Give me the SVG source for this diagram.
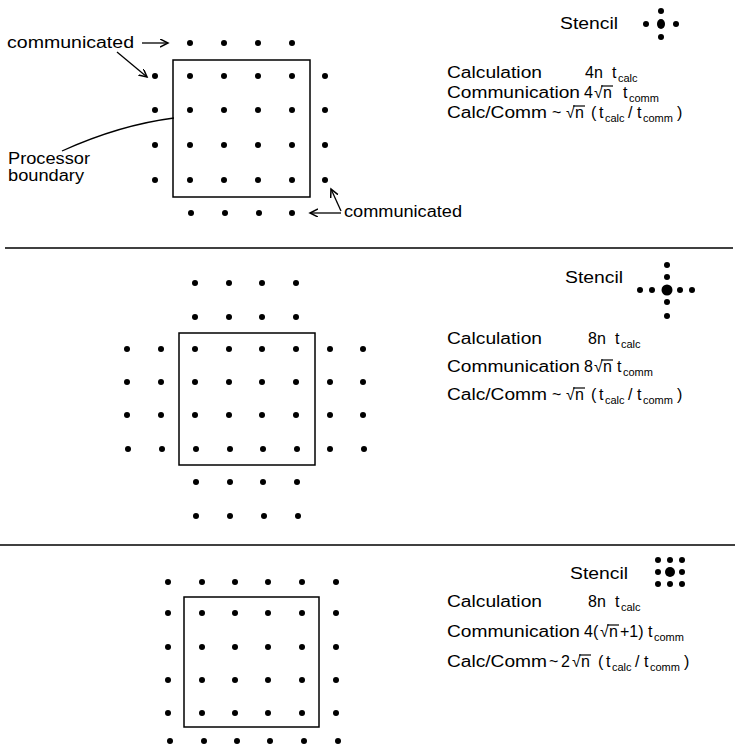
<svg xmlns="http://www.w3.org/2000/svg" width="735" height="746" viewBox="0 0 735 746">
<style>
text{font-family:"Liberation Sans","DejaVu Sans",sans-serif;font-size:16px;fill:#000}
.sub{font-size:11px}
.box{fill:none;stroke:#000;stroke-width:1.5}
.rule{stroke:#000;stroke-width:1.6}
.ln{fill:none;stroke:#000;stroke-width:1.3}
.bar{stroke:#000;stroke-width:1.2}
</style>
<defs>
<circle id="d" r="3" fill="#000"/>
<marker id="ah" markerWidth="10" markerHeight="10" refX="8" refY="4" orient="auto" markerUnits="userSpaceOnUse">
<path d="M0,0 L8,4 L0,8" fill="none" stroke="#000" stroke-width="1.5"/>
</marker>
</defs>
<rect width="735" height="746" fill="#fff"/>

<g id="dividers">
<line class="rule" x1="5" y1="248" x2="733" y2="248"/>
<line class="rule" x1="0" y1="545" x2="735" y2="545"/>
</g>

<g id="panel1">
<rect class="box" x="173" y="60" width="137" height="137"/>
<g id="grid1">
<use href="#d" x="190" y="43"/><use href="#d" x="224" y="43"/><use href="#d" x="258" y="43"/><use href="#d" x="292" y="43"/>
<use href="#d" x="155" y="76"/><use href="#d" x="190" y="76"/><use href="#d" x="224" y="76"/><use href="#d" x="258" y="76"/><use href="#d" x="292" y="76"/><use href="#d" x="325" y="76"/>
<use href="#d" x="155" y="110"/><use href="#d" x="190" y="110"/><use href="#d" x="224" y="110"/><use href="#d" x="258" y="110"/><use href="#d" x="292" y="110"/><use href="#d" x="325" y="110"/>
<use href="#d" x="155" y="145"/><use href="#d" x="190" y="145"/><use href="#d" x="224" y="145"/><use href="#d" x="258" y="145"/><use href="#d" x="292" y="145"/><use href="#d" x="325" y="145"/>
<use href="#d" x="155" y="180"/><use href="#d" x="190" y="180"/><use href="#d" x="224" y="180"/><use href="#d" x="258" y="180"/><use href="#d" x="292" y="180"/><use href="#d" x="325" y="180"/>
<use href="#d" x="191" y="213"/><use href="#d" x="225" y="213"/><use href="#d" x="259" y="213"/><use href="#d" x="292" y="213"/>
</g>
<text id="lbl-comm-top" x="7" y="48" textLength="127" lengthAdjust="spacingAndGlyphs">communicated</text>
<text id="lbl-proc" x="8" y="164" textLength="82" lengthAdjust="spacingAndGlyphs">Processor</text>
<text id="lbl-bound" x="8" y="181" textLength="76" lengthAdjust="spacingAndGlyphs">boundary</text>
<text id="lbl-comm-bot" x="344" y="217" textLength="118" lengthAdjust="spacingAndGlyphs">communicated</text>
<g id="stencil1">
<text x="560" y="29" textLength="58" lengthAdjust="spacingAndGlyphs">Stencil</text>
<use href="#d" x="661" y="11"/><use href="#d" x="646" y="24"/><use href="#d" x="676" y="24"/><use href="#d" x="661" y="37"/>
<ellipse cx="661" cy="24" rx="4" ry="5"/>
</g>
<g id="eq1">
<text x="447" y="78" textLength="95" lengthAdjust="spacingAndGlyphs">Calculation</text>
<text x="585" y="78">4n</text>
<text x="612" y="78">t</text><text class="sub" x="618" y="82">calc</text>
<text x="447" y="98" textLength="133" lengthAdjust="spacingAndGlyphs">Communication</text>
<text x="584" y="98">4</text><text x="594" y="98">√</text><text x="603" y="98">n</text><line class="bar" x1="601" y1="86" x2="613" y2="86"/>
<text x="623" y="98">t</text><text class="sub" x="629" y="102">comm</text>
<text x="447" y="118" textLength="100" lengthAdjust="spacingAndGlyphs">Calc/Comm</text>
<text x="552" y="118">~</text><text x="566" y="118">√</text><text x="575" y="118">n</text><line class="bar" x1="573" y1="106" x2="585" y2="106"/>
<text x="591" y="118">(</text><text x="599" y="118">t</text><text class="sub" x="605" y="122">calc</text>
<text x="628" y="118">/</text><text x="637" y="118">t</text><text class="sub" x="643" y="122">comm</text><text x="677" y="118">)</text>
</g>
</g>

<g id="panel2">
<rect class="box" x="179" y="333" width="136" height="132"/>
<g id="grid2">
<use href="#d" x="195" y="283"/><use href="#d" x="229" y="283"/><use href="#d" x="262" y="283"/><use href="#d" x="296" y="283"/>
<use href="#d" x="195" y="317"/><use href="#d" x="229" y="317"/><use href="#d" x="262" y="317"/><use href="#d" x="296" y="317"/>
<use href="#d" x="127" y="349"/><use href="#d" x="161" y="349"/><use href="#d" x="195" y="349"/><use href="#d" x="229" y="349"/><use href="#d" x="262" y="349"/><use href="#d" x="296" y="349"/><use href="#d" x="330" y="349"/><use href="#d" x="363" y="349"/>
<use href="#d" x="127" y="382"/><use href="#d" x="161" y="382"/><use href="#d" x="195" y="382"/><use href="#d" x="229" y="382"/><use href="#d" x="262" y="382"/><use href="#d" x="296" y="382"/><use href="#d" x="330" y="382"/><use href="#d" x="363" y="382"/>
<use href="#d" x="127" y="415"/><use href="#d" x="161" y="415"/><use href="#d" x="195" y="415"/><use href="#d" x="229" y="415"/><use href="#d" x="262" y="415"/><use href="#d" x="296" y="415"/><use href="#d" x="330" y="415"/><use href="#d" x="363" y="415"/>
<use href="#d" x="128" y="449"/><use href="#d" x="162" y="449"/><use href="#d" x="196" y="449"/><use href="#d" x="230" y="449"/><use href="#d" x="263" y="449"/><use href="#d" x="297" y="449"/><use href="#d" x="330" y="449"/><use href="#d" x="364" y="449"/>
<use href="#d" x="196" y="482"/><use href="#d" x="230" y="482"/><use href="#d" x="263" y="482"/><use href="#d" x="297" y="482"/>
<use href="#d" x="196" y="516"/><use href="#d" x="230" y="516"/><use href="#d" x="264" y="516"/><use href="#d" x="298" y="516"/>
</g>
<g id="stencil2">
<text x="565" y="283" textLength="58" lengthAdjust="spacingAndGlyphs">Stencil</text>
<use href="#d" x="667" y="265"/><use href="#d" x="667" y="277"/><use href="#d" x="667" y="302"/><use href="#d" x="667" y="316"/>
<use href="#d" x="640" y="290"/><use href="#d" x="652" y="290"/><use href="#d" x="680" y="290"/><use href="#d" x="692" y="290"/>
<circle cx="667" cy="290" r="5.5"/>
</g>
<g id="eq2">
<text x="447" y="344" textLength="95" lengthAdjust="spacingAndGlyphs">Calculation</text>
<text x="588" y="344">8n</text>
<text x="615" y="344">t</text><text class="sub" x="621" y="348">calc</text>
<text x="447" y="372" textLength="133" lengthAdjust="spacingAndGlyphs">Communication</text>
<text x="584" y="372">8</text><text x="594" y="372">√</text><text x="603" y="372">n</text><line class="bar" x1="601" y1="360" x2="613" y2="360"/>
<text x="617" y="372">t</text><text class="sub" x="623" y="376">comm</text>
<text x="447" y="400" textLength="100" lengthAdjust="spacingAndGlyphs">Calc/Comm</text>
<text x="552" y="400">~</text><text x="566" y="400">√</text><text x="575" y="400">n</text><line class="bar" x1="573" y1="388" x2="585" y2="388"/>
<text x="591" y="400">(</text><text x="599" y="400">t</text><text class="sub" x="605" y="404">calc</text>
<text x="628" y="400">/</text><text x="637" y="400">t</text><text class="sub" x="643" y="404">comm</text><text x="677" y="400">)</text>
</g>
</g>

<g id="panel3">
<rect class="box" x="184" y="597" width="135" height="130"/>
<g id="grid3">
<use href="#d" x="168" y="582"/><use href="#d" x="202" y="582"/><use href="#d" x="235" y="582"/><use href="#d" x="268" y="582"/><use href="#d" x="302" y="582"/><use href="#d" x="336" y="582"/>
<use href="#d" x="168" y="613"/><use href="#d" x="202" y="613"/><use href="#d" x="235" y="613"/><use href="#d" x="268" y="613"/><use href="#d" x="302" y="613"/><use href="#d" x="336" y="613"/>
<use href="#d" x="168" y="647"/><use href="#d" x="202" y="647"/><use href="#d" x="235" y="647"/><use href="#d" x="268" y="647"/><use href="#d" x="302" y="647"/><use href="#d" x="336" y="647"/>
<use href="#d" x="168" y="680"/><use href="#d" x="202" y="680"/><use href="#d" x="235" y="680"/><use href="#d" x="268" y="680"/><use href="#d" x="302" y="680"/><use href="#d" x="336" y="680"/>
<use href="#d" x="168" y="713"/><use href="#d" x="202" y="713"/><use href="#d" x="235" y="713"/><use href="#d" x="268" y="713"/><use href="#d" x="302" y="713"/><use href="#d" x="336" y="713"/>
<use href="#d" x="170" y="741"/><use href="#d" x="204" y="741"/><use href="#d" x="237" y="741"/><use href="#d" x="270" y="741"/><use href="#d" x="304" y="741"/><use href="#d" x="338" y="741"/>
</g>
<g id="stencil3">
<text x="570" y="579" textLength="58" lengthAdjust="spacingAndGlyphs">Stencil</text>
<use href="#d" x="658" y="560"/><use href="#d" x="670" y="560"/><use href="#d" x="682" y="560"/>
<use href="#d" x="658" y="572"/><use href="#d" x="682" y="572"/>
<use href="#d" x="658" y="584"/><use href="#d" x="670" y="584"/><use href="#d" x="682" y="584"/>
<circle cx="670" cy="572" r="5"/>
</g>
<g id="eq3">
<text x="447" y="607" textLength="95" lengthAdjust="spacingAndGlyphs">Calculation</text>
<text x="588" y="607">8n</text>
<text x="615" y="607">t</text><text class="sub" x="621" y="611">calc</text>
<text x="447" y="637" textLength="133" lengthAdjust="spacingAndGlyphs">Communication</text>
<text x="584" y="637">4(</text><text x="600" y="637">√</text><text x="609" y="637">n</text><line class="bar" x1="607" y1="625" x2="619" y2="625"/>
<text x="620" y="637">+1)</text>
<text x="648" y="637">t</text><text class="sub" x="654" y="641">comm</text>
<text x="447" y="667" textLength="100" lengthAdjust="spacingAndGlyphs">Calc/Comm</text>
<text x="549" y="667">~</text><text x="561" y="667">2</text><text x="572" y="667">√</text><text x="581" y="667">n</text><line class="bar" x1="579" y1="655" x2="591" y2="655"/>
<text x="598" y="667">(</text><text x="606" y="667">t</text><text class="sub" x="612" y="671">calc</text>
<text x="635" y="667">/</text><text x="644" y="667">t</text><text class="sub" x="650" y="671">comm</text><text x="684" y="667">)</text>
</g>
</g>

<g id="connectors">
<line class="ln" x1="142" y1="43" x2="168" y2="43" marker-end="url(#ah)"/>
<line class="ln" x1="117" y1="52" x2="147" y2="77" marker-end="url(#ah)"/>
<path class="ln" d="M62,151 C95,136 135,123 174,118"/>
<line class="ln" x1="341" y1="213" x2="310" y2="213" marker-end="url(#ah)"/>
<line class="ln" x1="341" y1="211" x2="331" y2="189" marker-end="url(#ah)"/>
</g>
</svg>
